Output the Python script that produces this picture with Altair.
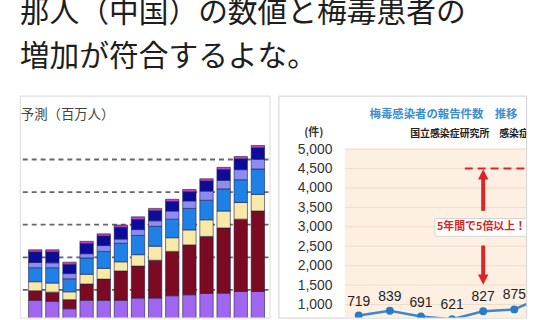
import altair as alt
import pandas as pd

# ---------------- data ----------------
title_lines = ["那人（中国）の数値と梅毒患者の", "増加が符合するよな。"]
left_label = "予測（百万人）"

bar_index = [1, 2, 3, 4, 5, 6, 7, 8, 9, 10, 11, 12, 13, 14]
series_names = ["s1", "s2", "s3", "s4", "s5", "s6", "s7"]
series_colors = ["#a066f0", "#7b0a22", "#f8e9a6", "#1f80e6", "#8c8cf2", "#0c0c9a", "#c63cc6"]
s_purple = [68, 65, 42, 68, 68, 68, 75, 75, 82, 85, 89, 90, 95, 95]
s_red = [29, 28, 28, 50, 65, 90, 98, 116, 136, 153, 175, 200, 222, 247]
s_yellow = [28, 28, 24, 30, 33, 28, 35, 43, 42, 46, 51, 52, 51, 51]
s_blue = [43, 47, 40, 50, 52, 57, 59, 61, 57, 66, 60, 68, 70, 78]
s_light = [16, 15, 16, 13, 18, 13, 18, 17, 25, 23, 28, 26, 31, 30]
s_navy = [32, 33, 28, 31, 29, 36, 31, 31, 29, 28, 31, 33, 33, 35]
s_pink = [7, 7, 7, 7, 7, 7, 8, 7, 7, 7, 7, 7, 7, 7]
left_grid = [100, 200, 300, 400, 500]

right_title = "梅毒感染者の報告件数　推移"
right_unit = "(件)"
right_source = "国立感染症研究所　感染症発生動向調査"
years = [2007, 2008, 2009, 2010, 2011, 2012, 2013]
reports = [719, 839, 691, 621, 827, 875, 1228]
y_ticks = [500, 1000, 1500, 2000, 2500, 3000, 3500, 4000, 4500, 5000]
target_level = 4500
callout = "5年間で5倍以上！"
arrow_year = 2011
up_arrow = [3410, 4290]
up_head = 4350
down_arrow = [2520, 1680]
down_head = 1640

# ---------------- styles ----------------
RED = "#dc2424"
FONT_JP = "Noto Sans CJK JP"
FONT_NUM = "Liberation Sans"

rows = []
for k, (name, vals) in enumerate(zip(series_names, [s_purple, s_red, s_yellow, s_blue, s_light, s_navy, s_pink])):
    for i, v in zip(bar_index, vals):
        rows.append({"bar": i, "series": name, "k": k, "value": v})
bars_df = pd.DataFrame(rows)
one = pd.DataFrame({"a": [0]})

# ---------------- left panel ----------------
xL = alt.Scale(domain=[0.389, 14.389], nice=False, zero=False)
yL = alt.Scale(domain=[15, 696], nice=False, zero=False)

l_grid = alt.Chart(pd.DataFrame({"g": left_grid})).mark_rule(
    color="#666666", strokeWidth=1.8, strokeDash=[5, 4]
).encode(y=alt.Y("g:Q", scale=yL, axis=None), x=alt.value(3), x2=alt.value(252))

l_bars = alt.Chart(bars_df).mark_bar(size=13.5, clip=True, stroke="#20204a", strokeWidth=0.6).encode(
    x=alt.X("bar:Q", scale=xL, axis=None),
    y=alt.Y("value:Q", stack="zero", scale=yL, axis=None),
    color=alt.Color("series:N", scale=alt.Scale(domain=series_names, range=series_colors), legend=None),
    order=alt.Order("k:Q", sort="ascending"),
)

l_text = alt.Chart(pd.DataFrame({"t": [left_label]})).mark_text(
    align="left", baseline="middle", fontSize=13.5, font=FONT_JP, color="#444444"
).encode(x=alt.value(1), y=alt.value(20), text="t:N")

left = alt.layer(l_grid, l_bars, l_text).properties(
    width=252, height=224, view=alt.ViewBackground(stroke="#dadada", fill="white")
)

# ---------------- right panel ----------------
xR = alt.Scale(domain=[2004.42, 2012.38], nice=False, zero=False)
yR = alt.Scale(domain=[664, 6378], nice=False, zero=False)
axR = alt.Axis(
    values=y_ticks, format=",d", offset=-67, domain=False, ticks=False, tickSize=0,
    labelPadding=13, labelFont=FONT_NUM, labelFontSize=14, labelColor="#333333",
    grid=False, title=None,
)

r_df = pd.DataFrame({"year": years, "reports": reports})

peach = alt.Chart(one).mark_rect(color="#fdf0e2").encode(
    x=alt.value(67), x2=alt.value(250),
    y=alt.YDatum(5025, scale=yR, axis=axR), y2=alt.datum(664),
)

r_grid = alt.Chart(pd.DataFrame({"g": y_ticks})).mark_rule(color="#f1dcc6", strokeWidth=1).encode(
    y=alt.Y("g:Q", scale=yR, axis=axR), x=alt.value(67), x2=alt.value(250)
)

dash = alt.Chart(one).mark_rule(color=RED, strokeWidth=2, strokeDash=[8, 5], clip=True).encode(
    x=alt.XDatum(2010.41, scale=xR, axis=None), x2=alt.datum(2012.38),
    y=alt.YDatum(target_level, scale=yR, axis=axR),
)

shafts = alt.Chart(pd.DataFrame({"y0": [up_arrow[0], down_arrow[0]], "y1": [up_arrow[1], down_arrow[1]]})).mark_rule(
    color=RED, strokeWidth=4
).encode(
    x=alt.XDatum(arrow_year, scale=xR, axis=None),
    y=alt.Y("y0:Q", scale=yR, axis=axR), y2="y1:Q",
)

head_up = alt.Chart(one).mark_point(
    shape="M -1 1 L 1 1 L 0 -1 Z", filled=True, size=110, color=RED, opacity=1, strokeWidth=0
).encode(x=alt.XDatum(arrow_year, scale=xR, axis=None), y=alt.YDatum(up_head, scale=yR, axis=axR))

head_down = alt.Chart(one).mark_point(
    shape="M -1 -1 L 1 -1 L 0 1 Z", filled=True, size=110, color=RED, opacity=1, strokeWidth=0
).encode(x=alt.XDatum(arrow_year, scale=xR, axis=None), y=alt.YDatum(down_head, scale=yR, axis=axR))

box = alt.Chart(one).mark_rect(fill="white", stroke="#d6d6d6", strokeWidth=1, clip=True).encode(
    x=alt.value(158), x2=alt.value(258), y=alt.value(124), y2=alt.value(142)
)

box_text = alt.Chart(pd.DataFrame({"t": [callout]})).mark_text(
    align="left", baseline="middle", fontSize=11, fontWeight="bold", font=FONT_JP, color=RED, clip=True
).encode(x=alt.value(160), y=alt.value(133), text="t:N")

line = alt.Chart(r_df).mark_line(color="#3b88ca", strokeWidth=2.5, clip=True).encode(
    x=alt.X("year:Q", scale=xR, axis=None), y=alt.Y("reports:Q", scale=yR, axis=axR)
)
pts = alt.Chart(r_df).mark_circle(size=64, color="#2a7cc0", opacity=1, clip=True).encode(
    x=alt.X("year:Q", scale=xR, axis=None), y=alt.Y("reports:Q", scale=yR, axis=axR)
)
lbls = alt.Chart(r_df).mark_text(dy=-14, fontSize=14, font=FONT_NUM, color="#222222", clip=True).encode(
    x=alt.X("year:Q", scale=xR, axis=None), y=alt.Y("reports:Q", scale=yR, axis=axR), text="reports:Q"
)

t_title = alt.Chart(pd.DataFrame({"t": [right_title]})).mark_text(
    align="left", baseline="middle", fontSize=11.5, fontWeight="bold", font=FONT_JP, color="#3d8ed0"
).encode(x=alt.value(92), y=alt.value(19.5), text="t:N")

t_unit = alt.Chart(pd.DataFrame({"t": [right_unit]})).mark_text(
    align="left", baseline="middle", fontSize=11, fontWeight="bold", font=FONT_JP, color="#333333"
).encode(x=alt.value(26), y=alt.value(38), text="t:N")

t_source = alt.Chart(pd.DataFrame({"t": [right_source]})).mark_text(
    align="left", baseline="middle", fontSize=10, fontWeight="bold", font=FONT_JP, color="#222222", clip=True
).encode(x=alt.value(133), y=alt.value(39), text="t:N")

right = alt.layer(
    peach, r_grid, dash, shafts, head_up, head_down, box, box_text, line, pts, lbls, t_title, t_unit, t_source
).properties(width=250, height=224, view=alt.ViewBackground(stroke="#cfcfcf", fill="white"))

chart = alt.hconcat(left, right, spacing=6).properties(
    title=alt.TitleParams(
        text=title_lines, fontSize=30, lineHeight=45, anchor="start", font=FONT_JP,
        fontWeight="normal", color="#1e1e1e", offset=23, frame="group",
    ),
    padding={"left": 19, "top": -4, "right": 13, "bottom": 0},
    background="white",
)

chart.save("out.html", embed_options={"renderer": "svg", "actions": False})
